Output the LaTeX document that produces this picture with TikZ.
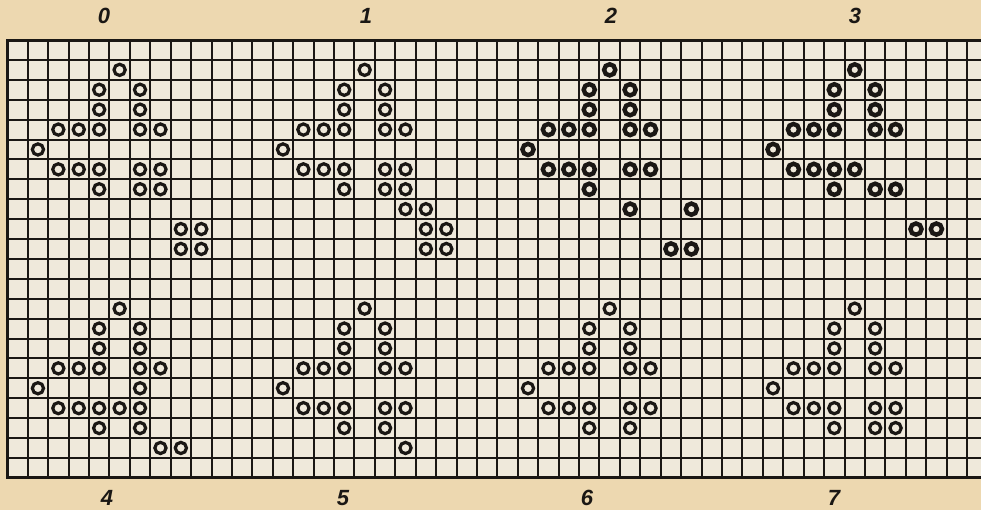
\documentclass[tikz,border=0pt]{standalone}
\usepackage{fontspec}
\setmainfont{Liberation Sans}
\definecolor{lifepaper}{HTML}{EDD8B0}
\definecolor{lifecream}{HTML}{EFE9DB}
\definecolor{lifeink}{HTML}{1A1714}
\tikzset{
  gridline/.style={line width=1pt, draw=lifeink},
  gridframe/.style={line width=1.5pt, draw=lifeink},
  lifecell/.style={circle, draw=lifeink, line width=1.6pt, fill=lifecream,
    minimum size=5.6pt, inner sep=0pt},
  lifecellbold/.style={lifecell, line width=2.2pt},
  genlabel/.style={font=\fontsize{11}{13}\selectfont\bfseries\itshape, text=lifeink}
}

\begin{document}
\begin{tikzpicture}[x=0.5pt,y=-0.5pt]
    \useasboundingbox (0,0) rectangle (981,510);
    \clip (0,0) rectangle (981,510);
    \fill[lifepaper] (0,0) rectangle (981,510);

    \begin{scope}[shift={(7.3,40)}, x=10.21pt, y=-9.95pt]
        \fill[lifecream] (0,0) rectangle (48,22);
        \foreach \i in {1,...,47}
            \draw[gridline] (\i,0) -- (\i,22);
        \foreach \j in {1,...,21}
            \draw[gridline] (0,\j) -- (48,\j);
        \draw[gridframe] (0,0) rectangle (48,22);

        % generations 0-7: column offset / apex row / style / live cells
        \foreach \g/\gx/\gy/\gstyle/\cells in {
            0/0/1/lifecell/{5/0,4/1,6/1,4/2,6/2,2/3,3/3,4/3,6/3,7/3,1/4,2/5,3/5,4/5,6/5,7/5,4/6,6/6,7/6,8/8,9/8,8/9,9/9},
            1/12/1/lifecell/{5/0,4/1,6/1,4/2,6/2,2/3,3/3,4/3,6/3,7/3,1/4,2/5,3/5,4/5,6/5,7/5,4/6,6/6,7/6,7/7,8/7,8/8,9/8,8/9,9/9},
            2/24/1/lifecellbold/{5/0,4/1,6/1,4/2,6/2,2/3,3/3,4/3,6/3,7/3,1/4,2/5,3/5,4/5,6/5,7/5,4/6,6/7,9/7,8/9,9/9},
            3/36/1/lifecellbold/{5/0,4/1,6/1,4/2,6/2,2/3,3/3,4/3,6/3,7/3,1/4,2/5,3/5,4/5,5/5,4/6,6/6,7/6,8/8,9/8},
            4/0/13/lifecell/{5/0,4/1,6/1,4/2,6/2,2/3,3/3,4/3,6/3,7/3,1/4,6/4,2/5,3/5,4/5,5/5,6/5,4/6,6/6,7/7,8/7},
            5/12/13/lifecell/{5/0,4/1,6/1,4/2,6/2,2/3,3/3,4/3,6/3,7/3,1/4,2/5,3/5,4/5,6/5,7/5,4/6,6/6,7/7},
            6/24/13/lifecell/{5/0,4/1,6/1,4/2,6/2,2/3,3/3,4/3,6/3,7/3,1/4,2/5,3/5,4/5,6/5,7/5,4/6,6/6},
            7/36/13/lifecell/{5/0,4/1,6/1,4/2,6/2,2/3,3/3,4/3,6/3,7/3,1/4,2/5,3/5,4/5,6/5,7/5,4/6,6/6,7/6}}
            \foreach \c/\r [count=\k] in \cells
                \node[\gstyle] (g\g-\k) at (\gx+\c+0.5,\gy+\r+0.5) {};
    \end{scope}

    \node[genlabel] (lab0) at (104,16) {0};
    \node[genlabel] (lab1) at (366,16) {1};
    \node[genlabel] (lab2) at (611,16) {2};
    \node[genlabel] (lab3) at (855,16) {3};
    \node[genlabel] (lab4) at (107,498) {4};
    \node[genlabel] (lab5) at (343,498) {5};
    \node[genlabel] (lab6) at (587,498) {6};
    \node[genlabel] (lab7) at (834,498) {7};
\end{tikzpicture}
\end{document}
